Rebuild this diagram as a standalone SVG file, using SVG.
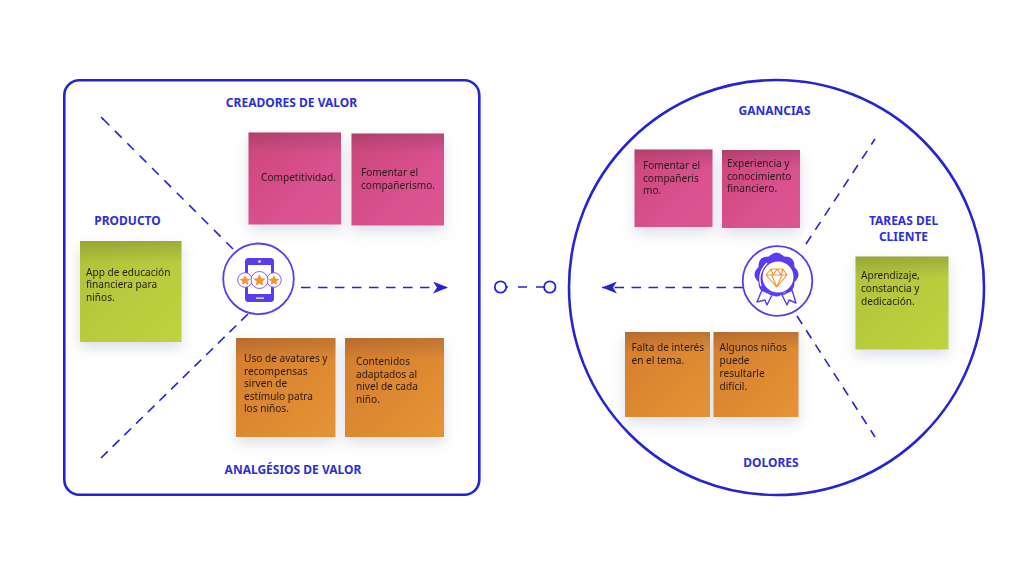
<svg xmlns="http://www.w3.org/2000/svg" width="1024" height="576" viewBox="0 0 1024 576">
<style>
text{font-family:"Noto Sans","Open Sans",sans-serif}
.h{font-size:12px;font-weight:700;fill:#2b2fd6;text-anchor:middle}
.t{font-size:10.1px;fill:#2a1a1a}
.frame{fill:#fff;stroke:#2424d2;stroke-width:2.6}
.d{fill:none;stroke:#2424d2;stroke-width:1.6;stroke-dasharray:9.500 7.500}
.ring{fill:#fff;stroke:#5b3bf0;stroke-width:1.8}
.pu{fill:#5b3bf0}
.or{fill:#f7932e}
.note{filter:url(#sh)}
</style>
<defs>
<filter id="sh" x="-30%" y="-30%" width="160%" height="170%"><feDropShadow dx="0" dy="6" stdDeviation="7" flood-color="#8088a8" flood-opacity=".28"/></filter>
<linearGradient id="pink" x1="0" y1="0" x2="1" y2="1"><stop offset="0" stop-color="#cc4678"/><stop offset=".6" stop-color="#d9518f"/><stop offset="1" stop-color="#dc5692"/></linearGradient>
<linearGradient id="orange" x1="0" y1="0" x2="1" y2="1"><stop offset="0" stop-color="#d47c2c"/><stop offset="1" stop-color="#e59436"/></linearGradient>
<linearGradient id="green" x1="0" y1="0" x2="1" y2="1"><stop offset="0" stop-color="#aec338"/><stop offset="1" stop-color="#bfd340"/></linearGradient>
<linearGradient id="top" x1="0" y1="0" x2="0" y2="1"><stop offset="0" stop-color="#3a2a3a" stop-opacity=".2"/><stop offset=".17" stop-color="#3a2a3a" stop-opacity=".05"/><stop offset=".22" stop-color="#3a2a3a" stop-opacity="0"/></linearGradient>
<marker id="ah" viewBox="0 0 15 12" refX="15" refY="6" markerWidth="15" markerHeight="12" markerUnits="userSpaceOnUse" orient="auto"><path d="M0 0L15 6L0 12L4 6Z" fill="#2424d2"/></marker>
<path id="star" d="M0-6.200L1.800-2 6.200-1.600 2.900 1.300 3.900 5.600 0 3.300-3.900 5.600-2.900 1.300-6.200-1.600-1.800-2Z"/>
</defs>

<g id="frames">
<rect class="frame" x="64.300" y="80.300" width="415" height="414.500" rx="15"/>
<circle class="frame" cx="776.500" cy="287.500" r="207.500"/>
</g>

<g id="connectors">
<path class="d" d="M233 249L101 117" style="stroke-dasharray:9.500 8"/>
<path d="M101 117L103.500 119.500" fill="none" stroke="#2424d2" stroke-width="1.600"/>
<path class="d" d="M248 314L101 458" style="stroke-dasharray:9.500 6.860"/>
<path class="d" d="M301 287.500H448" marker-end="url(#ah)"/>
<path d="M506 287H508M518 287H527M536 287H544" fill="none" stroke="#2424d2" stroke-width="1.600"/>
<path class="d" d="M743 287.500H602" marker-end="url(#ah)"/>
<path class="d" d="M806 244L875 139"/>
<path class="d" d="M797 316L875 437"/>
<circle cx="500.500" cy="287" r="5.700" fill="#fff" stroke="#2424d2" stroke-width="1.800"/>
<circle cx="549.800" cy="287" r="5.700" fill="#fff" stroke="#2424d2" stroke-width="1.800"/>
</g>

<g id="label-creadores"><text class="h" x="291.500" y="107">CREADORES DE VALOR</text></g>
<g id="label-producto"><text class="h" x="127.500" y="225">PRODUCTO</text></g>
<g id="label-analgesios"><text class="h" x="293" y="474">ANALGÉSIOS DE VALOR</text></g>
<g id="label-ganancias"><text class="h" x="774.500" y="115">GANANCIAS</text></g>
<g id="label-tareas"><text class="h" x="903.500" y="225">TAREAS DEL</text><text class="h" x="903.500" y="241">CLIENTE</text></g>
<g id="label-dolores"><text class="h" x="771" y="467">DOLORES</text></g>

<g id="note-competitividad" class="note"><rect x="248.500" y="132.500" width="92.500" height="92" fill="url(#pink)"/><rect x="248.500" y="132.500" width="92.500" height="92" fill="url(#top)"/><text class="t" x="261" y="181">Competitividad.</text></g>
<g id="note-companerismo" class="note"><rect x="351.500" y="133.500" width="92.500" height="92" fill="url(#pink)"/><rect x="351.500" y="133.500" width="92.500" height="92" fill="url(#top)"/><text class="t"><tspan x="361" y="176">Fomentar el</tspan><tspan x="361" y="189">compañerismo.</tspan></text></g>
<g id="note-producto" class="note"><rect x="80" y="241" width="101.500" height="101" fill="url(#green)"/><rect x="80" y="241" width="101.500" height="101" fill="url(#top)"/><text class="t"><tspan x="86" y="276">App de educación</tspan><tspan x="86" y="288">financiera para</tspan><tspan x="86" y="301">niños.</tspan></text></g>
<g id="note-avatares" class="note"><rect x="236" y="338" width="99.500" height="99" fill="url(#orange)"/><rect x="236" y="338" width="99.500" height="99" fill="url(#top)"/><text class="t"><tspan x="244" y="362">Uso de avatares y</tspan><tspan x="244" y="375">recompensas</tspan><tspan x="244" y="387">sirven de</tspan><tspan x="244" y="400">estímulo patra</tspan><tspan x="244" y="412">los niños.</tspan></text></g>
<g id="note-contenidos" class="note"><rect x="345" y="338" width="99" height="99" fill="url(#orange)"/><rect x="345" y="338" width="99" height="99" fill="url(#top)"/><text class="t"><tspan x="356" y="365">Contenidos</tspan><tspan x="356" y="378">adaptados al</tspan><tspan x="356" y="390">nivel de cada</tspan><tspan x="356" y="403">niño.</tspan></text></g>
<g id="note-fomentar" class="note"><rect x="634.500" y="149.500" width="78" height="77.500" fill="url(#pink)"/><rect x="634.500" y="149.500" width="78" height="77.500" fill="url(#top)"/><text class="t"><tspan x="643" y="169">Fomentar el</tspan><tspan x="643" y="182">compañeris</tspan><tspan x="643" y="194">mo.</tspan></text></g>
<g id="note-experiencia" class="note"><rect x="722" y="150" width="78" height="78" fill="url(#pink)"/><rect x="722" y="150" width="78" height="78" fill="url(#top)"/><text class="t"><tspan x="727" y="167">Experiencia y</tspan><tspan x="727" y="180">conocimiento</tspan><tspan x="727" y="192">financiero.</tspan></text></g>
<g id="note-aprendizaje" class="note"><rect x="855.500" y="256.500" width="93" height="93" fill="url(#green)"/><rect x="855.500" y="256.500" width="93" height="93" fill="url(#top)"/><text class="t"><tspan x="861" y="279">Aprendizaje,</tspan><tspan x="861" y="292">constancia y</tspan><tspan x="861" y="305">dedicación.</tspan></text></g>
<g id="note-falta" class="note"><rect x="625" y="332" width="85" height="85" fill="url(#orange)"/><rect x="625" y="332" width="85" height="85" fill="url(#top)"/><text class="t"><tspan x="631.500" y="351">Falta de interés</tspan><tspan x="631.500" y="364">en el tema.</tspan></text></g>
<g id="note-algunos" class="note"><rect x="713.500" y="332" width="85" height="85" fill="url(#orange)"/><rect x="713.500" y="332" width="85" height="85" fill="url(#top)"/><text class="t"><tspan x="719.500" y="351">Algunos niños</tspan><tspan x="719.500" y="364">puede</tspan><tspan x="719.500" y="377">resultarle</tspan><tspan x="719.500" y="390">difícil.</tspan></text></g>

<g id="icon-app">
<circle class="ring" cx="258.500" cy="278.800" r="35.300"/>
<rect class="pu" x="245" y="258" width="29" height="44" rx="3.500"/>
<rect x="248" y="265" width="23" height="29" fill="#fff"/>
<circle cx="259.500" cy="261.500" r="1.300" fill="#fff"/>
<rect x="256" y="297.500" width="8" height="1.200" fill="#fff"/>
<g fill="#fff" stroke="#7a62f0" stroke-width="1"><circle cx="245" cy="280" r="7.300"/><circle cx="274" cy="280" r="7.300"/><circle cx="259.500" cy="280" r="8.500"/></g>
<use href="#star" class="or" transform="translate(245 280.300) scale(.85)"/>
<use href="#star" class="or" transform="translate(259.500 280.200)"/>
<use href="#star" class="or" transform="translate(274 280.300) scale(.85)"/>
</g>

<g id="icon-medal">
<circle class="ring" cx="777.500" cy="281" r="34.800"/>
<path d="M762 290L757 302L765 300L767 305L772 295ZM792 290L796 303L789 300L787 305L782 295Z" fill="#fff" stroke="#5b3bf0" stroke-width="1.400" stroke-linejoin="round"/>
<path class="pu" transform="translate(776.500 274.500)" d="M18-7.500Q26 0 18 7.500Q18.400 18.400 7.500 18Q0 26-7.500 18Q-18.400 18.400-18 7.500Q-26 0-18-7.500Q-18.400-18.400-7.500-18Q0-26 7.500-18Q18.400-18.400 18-7.500Z"/>
<circle cx="778" cy="277" r="15.500" fill="#fff"/>
<path d="M767 263Q757 273 761 286" fill="none" stroke="#fff" stroke-width="1.300"/>
<path d="M771 269H783L787 275L776.800 287L766 275ZM766 275H787M771.500 275L776.800 287L782 275M771 269L773 275L777 269L781 275L783 269" fill="none" stroke="#f7932e" stroke-width="1.100" stroke-linejoin="round"/>
</g>
</svg>
